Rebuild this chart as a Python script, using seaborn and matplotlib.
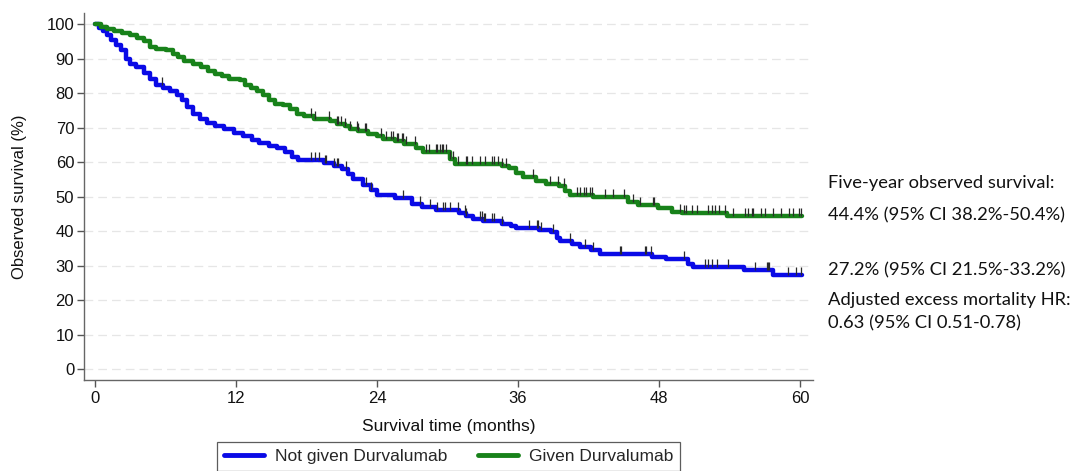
import numpy as np
import pandas as pd
import matplotlib
matplotlib.use("Agg")
import matplotlib.pyplot as plt
import seaborn as sns
from matplotlib.path import Path

# ---------------- data ----------------
groups = ["Not given Durvalumab", "Given Durvalumab"]

blue_t = [0, 0.3, 0.7, 1.0, 1.4, 1.8, 2.2, 2.6, 3.0, 3.5, 4.2, 4.7, 5.2, 5.8, 6.4,
          7.0, 7.4, 7.8, 8.3, 8.9, 9.5, 10.2, 11.0, 11.8, 12.6, 13.4, 14.0, 14.8,
          15.5, 16.2, 16.8, 17.3, 19.5, 20.3, 21.0, 21.5, 22.0, 22.8, 23.5, 24.0,
          25.5, 27.0, 27.8, 29.0, 31.0, 31.6, 32.2, 33.0, 34.6, 35.4, 35.8, 37.8,
          38.8, 39.3, 39.6, 40.6, 41.3, 42.2, 43.0, 47.4, 48.6, 50.5, 50.9, 55.2,
          57.7, 60.2]
blue_s = [100, 99, 98, 97, 95.5, 94, 92.5, 90, 88.5, 87.5, 86, 84, 82.5, 81.5, 80.5,
          79.5, 78, 76, 74, 72.5, 71.5, 70.5, 69.5, 68.5, 67.5, 66.5, 65.5, 64.8,
          64, 63, 61.5, 60.5, 59.8, 58.8, 58, 56.5, 55, 53.5, 52, 50.5,
          49.5, 48, 47, 46.2, 45.2, 44.3, 43.4, 42.8, 42.2, 41.5, 40.8, 40.2,
          39.7, 38, 37, 36.2, 35.5, 34.5, 33.5, 32.6, 31.8, 30.6, 29.5, 28.8,
          27.2, 27.2]

green_t = [0, 0.5, 1.0, 1.6, 2.3, 3.0, 3.6, 4.2, 4.7, 5.2, 6.0, 6.6, 7.1, 7.6, 8.3,
           9.0, 9.6, 10.2, 10.8, 11.4, 12.3, 12.8, 13.3, 13.8, 14.3, 14.8, 15.3,
           16.0, 16.6, 17.2, 17.8, 18.6, 20.0, 20.6, 21.3, 21.7, 22.4, 23.2, 24.0,
           24.5, 25.5, 26.3, 27.3, 27.9, 30.2, 30.6, 34.6, 35.2, 35.8, 36.4, 37.5,
           38.4, 39.5, 40.0, 40.4, 42.4, 45.4, 46.2, 47.9, 49.1, 50.0, 53.8, 60.2]
green_s = [100, 99.3, 98.6, 98, 97.5, 96.8, 96, 95, 93.5, 92.8, 92.5, 91.5, 90.5,
           89.3, 88.5, 87.5, 86.5, 85.5, 85, 84.2, 83.8, 82.5, 81.5, 80.5, 79.5,
           78, 77, 76.5, 75.5, 74, 73.3, 72.5, 72, 71.2, 70.5, 69.7, 69, 68.3,
           67.5, 66.8, 66, 65.4, 64, 63, 61, 59.6, 59, 58.3, 57, 55.7, 54.5,
           53.8, 53, 51.5, 50.4, 49.9, 48.4, 47.5, 46.6, 45.6, 45.2, 44.4, 44.4]

blue_cens = [5.7, 18.4, 18.7, 19.1, 19.6, 19.7, 20.3, 20.6, 20.7, 21.4, 23.1, 23.5,
             26.2, 27.7, 28.5, 29.1, 29.6, 29.8, 30.2, 30.9, 31.5, 31.6, 32.8, 32.9,
             33.1, 33.2, 33.8, 34.0, 34.6, 36.9, 37.6, 37.7, 38.0, 39.0, 40.4, 41.7,
             42.4, 44.7, 44.8, 46.8, 46.9, 47.3, 50.1, 51.9, 52.2, 52.5, 52.9, 53.9,
             56.2, 57.2, 57.3, 57.4, 59.0, 59.7, 60.1]
green_cens = [18.4, 18.7, 19.9, 20.6, 20.7, 20.9, 21.3, 21.7, 22.3, 22.4, 23.0, 23.1,
              24.3, 24.8, 25.2, 25.4, 25.7, 25.8, 26.1, 26.2, 26.5, 27.2, 28.2, 28.4,
              29.0, 29.1, 29.4, 29.5, 29.6, 29.9, 30.2, 30.5, 30.9, 31.6, 31.7, 32.1,
              32.8, 33.2, 33.8, 34.0, 34.3, 34.6, 35.0, 37.3, 38.7, 39.4, 39.9, 41.0,
              41.3, 41.6, 41.8, 42.1, 42.3, 43.4, 44.1, 45.0, 45.8, 46.4, 47.5, 47.6,
              49.8, 50.1, 50.3, 50.8, 51.2, 52.2, 52.5, 52.8, 53.1, 53.6, 54.3, 55.3,
              55.6, 55.9, 56.0, 56.7, 57.0, 57.7, 58.4, 59.1, 59.4, 59.9, 60.1]

x_ticks = [0, 12, 24, 36, 48, 60]
y_ticks = [0, 10, 20, 30, 40, 50, 60, 70, 80, 90, 100]

notes = ["Five-year observed survival:",
         "44.4% (95% CI 38.2%-50.4%)",
         "27.2% (95% CI 21.5%-33.2%)",
         "Adjusted excess mortality HR:",
         "0.63 (95% CI 0.51-0.78)"]

# ---------------- build tables ----------------
curves = pd.concat([
    pd.DataFrame({"time": blue_t, "surv": blue_s, "group": groups[0]}),
    pd.DataFrame({"time": green_t, "surv": green_s, "group": groups[1]}),
], ignore_index=True)


def step_value(t_list, s_list, t):
    idx = np.searchsorted(np.asarray(t_list), t, side="right") - 1
    return np.asarray(s_list)[idx]


cens = pd.concat([
    pd.DataFrame({"time": blue_cens,
                  "surv": step_value(blue_t, blue_s, blue_cens), "group": groups[0]}),
    pd.DataFrame({"time": green_cens,
                  "surv": step_value(green_t, green_s, green_cens), "group": groups[1]}),
], ignore_index=True)

# ---------------- plot ----------------
sns.set_style("ticks")
plt.rcParams["font.family"] = ["Liberation Sans", "DejaVu Sans"]

fig = plt.figure(figsize=(10.71, 4.71), dpi=100)
ax = fig.add_axes([0.0784, 0.193, 0.6806, 0.779])

palette = {groups[0]: "#0a0ae6", groups[1]: "#18821a"}

sns.lineplot(data=curves, x="time", y="surv", hue="group", palette=palette,
             hue_order=groups, drawstyle="steps-post", linewidth=3.2,
             estimator=None, sort=False, ax=ax, legend=True, zorder=3)

tick_marker = Path([(0, 0), (0, 1)], [Path.MOVETO, Path.LINETO])
ax.plot(cens["time"], cens["surv"], linestyle="none", marker=tick_marker,
        markersize=12, markeredgewidth=0.9, color="#2a2a2a", zorder=4)

ax.set_xlim(-0.94, 61.1)
ax.set_ylim(-3.2, 103.2)
ax.set_xticks(x_ticks)
ax.set_yticks(y_ticks)
ax.tick_params(axis="both", direction="out", length=5, width=1, color="#555555",
               labelsize=12, labelcolor="#111111", bottom=True, left=True)
ax.tick_params(axis="x", pad=3)
ax.tick_params(axis="y", pad=2)
ax.yaxis.grid(True, linestyle=(0, (7, 4)), color="#e6e6e6", linewidth=0.9)
ax.xaxis.grid(False)
for side in ["top", "right"]:
    ax.spines[side].set_visible(False)
for side in ["left", "bottom"]:
    ax.spines[side].set_color("#666666")
    ax.spines[side].set_linewidth(1.0)

ax.set_xlabel("Survival time (months)", fontsize=12.5, color="#111111", labelpad=9)
ax.set_ylabel("Observed survival (%)", fontsize=12, color="#111111", labelpad=14)

handles, labels = ax.get_legend_handles_labels()
for h in handles:
    h.set_linewidth(3.5)
ax.legend(handles=handles, labels=labels, loc="upper center",
          bbox_to_anchor=(0.4188, 0.0616), bbox_transform=fig.transFigure,
          borderaxespad=0.0,
          ncol=2, frameon=True, fancybox=False, edgecolor="#333333",
          fontsize=12.5, handlelength=2.3, columnspacing=1.75, borderpad=0.4,
          handletextpad=0.63)
ax.get_legend().get_frame().set_linewidth(0.9)

note_y = [183, 215, 270, 300, 323]
for txt, yy in zip(notes, note_y):
    fig.text(828 / 1071, 1 - yy / 471, txt, ha="left", va="center",
             fontsize=13.2, family=["Lato", "DejaVu Sans"], color="#111111")

fig.savefig("out.png", dpi=100)
